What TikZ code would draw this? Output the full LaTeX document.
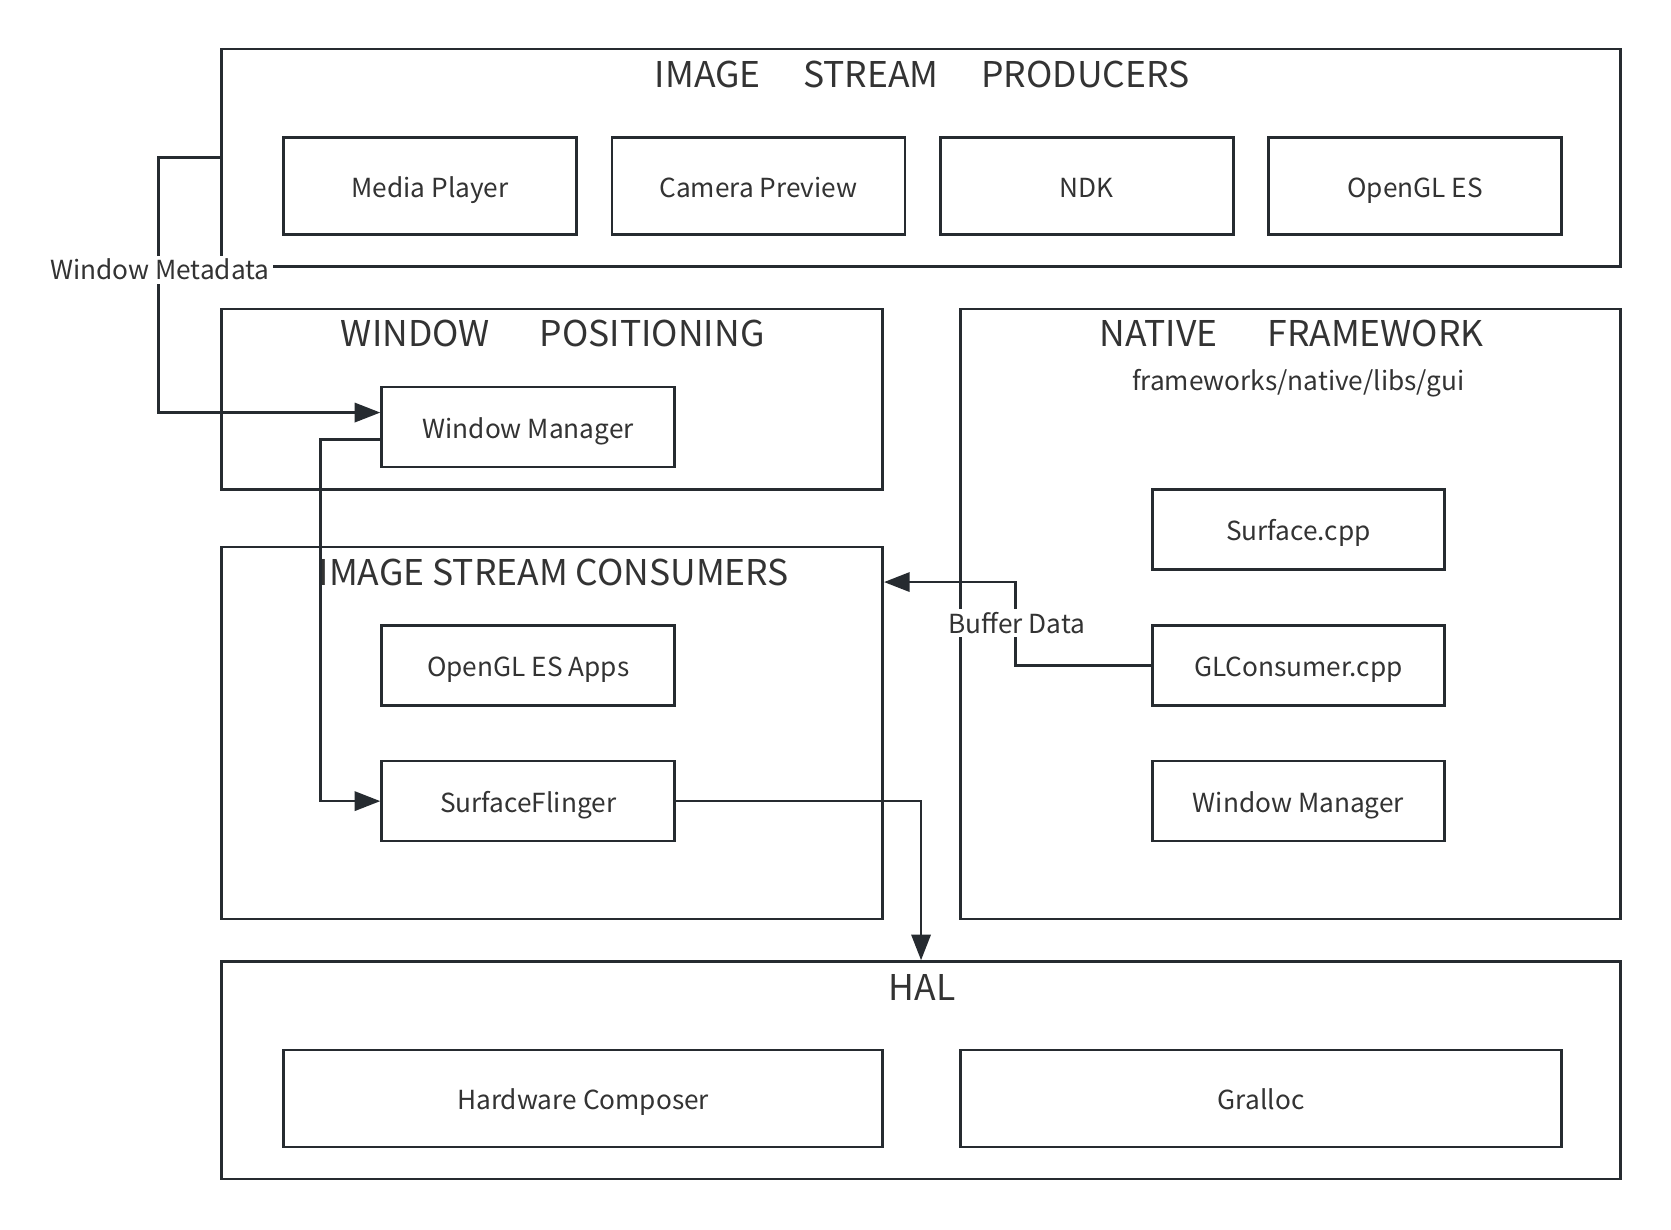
\documentclass[tikz,border=0pt]{standalone}
\usepackage{fontspec}
\setmainfont{Noto Sans CJK SC}
\usetikzlibrary{arrows.meta}
\definecolor{lc}{HTML}{262B30}
\definecolor{tc}{HTML}{333333}
\tikzset{
  box/.style={draw=lc, line width=2.5pt, inner sep=0pt, text=tc, text height=20.8pt, text depth=0pt, font=\fontsize{24.6}{29}\selectfont},
  cont/.style={draw=lc, line width=2.5pt, inner sep=0pt},
  ttl/.style={inner sep=0pt, text=tc, font=\fontsize{33.3}{38}\selectfont},
  sub/.style={inner sep=0pt, text=tc, font=\fontsize{24.6}{29}\selectfont},
  lbl/.style={fill=white, inner sep=3pt, text=tc, font=\fontsize{24.6}{29}\selectfont},
  arr/.style={draw=lc, line width=2.5pt, -{Triangle[length=24pt,width=18pt]}}
}
\begin{document}
\begin{tikzpicture}[x=1pt,y=-1pt]
\useasboundingbox[fill=white] (0,0) rectangle (1567.5,1153.8);
% containers
\node[cont, minimum width=1312pt, minimum height=204pt] (prod) at (864,148) {};
\node[cont, minimum width=620pt, minimum height=169pt] (winpos) at (518,374.5) {};
\node[cont, minimum width=619pt, minimum height=572pt] (native) at (1210.5,576) {};
\node[cont, minimum width=620pt, minimum height=349pt] (cons) at (518,687.5) {};
\node[cont, minimum width=1312pt, minimum height=204pt] (hal) at (864,1004) {};
% titles
\node[ttl] (prodT) at (865,70) {IMAGE\hspace{40pt}STREAM\hspace{40pt}PRODUCERS};
\node[ttl] (winposT) at (518.5,313) {WINDOW\hspace{47pt}POSITIONING};
\node[ttl] (nativeT) at (1211.5,313) {NATIVE\hspace{47pt}FRAMEWORK};
\node[sub] (nativeS) at (1218,359) {frameworks/native/libs/gui};
\node[ttl] (consT) at (519.5,537) {IMAGE STREAM CONSUMERS};
\node[ttl] (halT) at (865,926) {HAL};
% producers
\node[box, minimum width=275pt, minimum height=91pt] (mp) at (403.5,174.5) {Media Player};
\node[box, minimum width=275pt, minimum height=91pt] (cp) at (711.5,174.5) {Camera Preview};
\node[box, minimum width=275pt, minimum height=91pt] (ndk) at (1019.5,174.5) {NDK};
\node[box, minimum width=275pt, minimum height=91pt] (ogl) at (1327.5,174.5) {OpenGL ES};
% window positioning
\node[box, minimum width=275pt, minimum height=75pt] (wm1) at (495.5,400.5) {Window Manager};
% native framework
\node[box, minimum width=274pt, minimum height=75pt] (surf) at (1218,496.5) {Surface.cpp};
\node[box, minimum width=274pt, minimum height=75pt] (glc) at (1218,624.5) {GLConsumer.cpp};
\node[box, minimum width=274pt, minimum height=75pt] (wm2) at (1218,751.5) {Window Manager};
% consumers
\node[box, minimum width=275pt, minimum height=75pt] (oglapps) at (495.5,624.5) {OpenGL ES Apps};
\node[box, minimum width=275pt, minimum height=75pt] (sf) at (495.5,751.5) {SurfaceFlinger};
% HAL
\node[box, minimum width=562pt, minimum height=91pt] (hwc) at (547,1030.5) {Hardware Composer};
\node[box, minimum width=564pt, minimum height=91pt] (gra) at (1183,1030.5) {Gralloc};
% connectors
\draw[arr] (prod.west) -- ++(-58,0) |- ([yshift=13.5pt]wm1.west);
\draw[arr] ([yshift=-11.5pt]wm1.west) -- ++(-56,0) |- (sf.west);
\draw[arr] (glc.west) -- ++(-127,0) |- ([yshift=141.5pt]cons.east);
\draw[arr] (sf.east) -| (hal.north);
% labels
\node[lbl] (wmeta) at (150,253) {Window Metadata};
\node[lbl] (bdata) at (954,584) {Buffer Data};
\end{tikzpicture}
\end{document}
